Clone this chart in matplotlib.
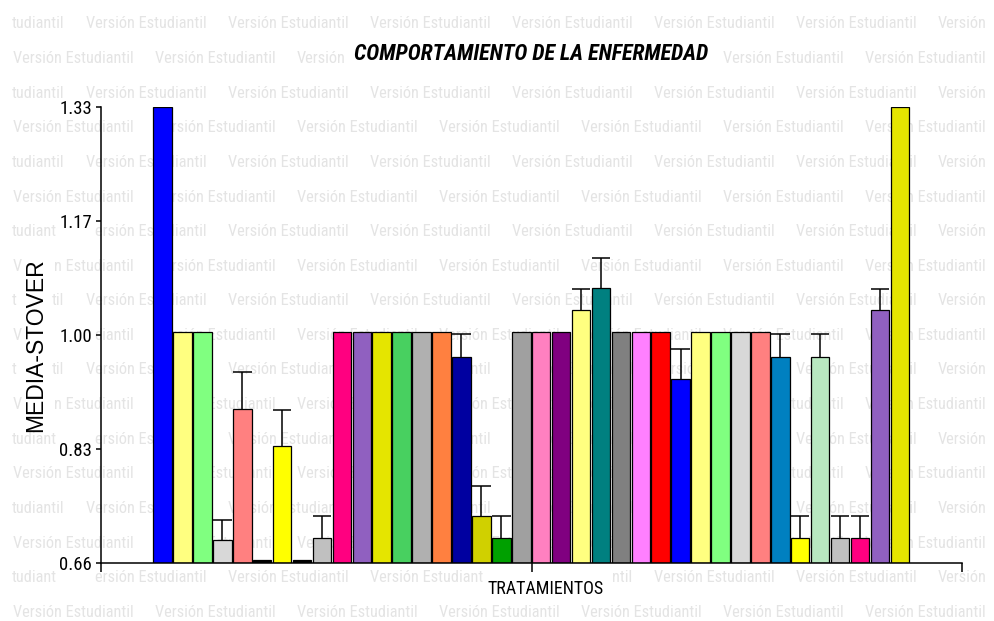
import numpy as np
import matplotlib
matplotlib.use("Agg")
import matplotlib.pyplot as plt
from matplotlib import font_manager as fm
from matplotlib.font_manager import FontProperties

# ---------------- data ----------------
categories = [f"T{i}" for i in range(1, 39)]
means = [1.33, 1.00, 1.00, 0.693, 0.886, 0.664, 0.832, 0.664, 0.697,
         1.00, 1.00, 1.00, 1.00, 1.00, 1.00, 0.963, 0.729, 0.697, 1.00,
         1.00, 1.00, 1.032, 1.064, 1.00, 1.00, 1.00, 0.930, 1.00, 1.00,
         1.00, 1.00, 0.963, 0.696, 0.963, 0.696, 0.696, 1.032, 1.33]
errors = [0, 0, 0, 0.030, 0.054, 0, 0.052, 0, 0.031,
          0, 0, 0, 0, 0, 0, 0.034, 0.044, 0.032, 0,
          0, 0, 0.031, 0.044, 0, 0, 0, 0.044, 0, 0,
          0, 0, 0.034, 0.033, 0.034, 0.033, 0.033, 0.031, 0]
colors = ["#0000FF", "#FFFF80", "#80FF80", "#D8D8D8", "#FF8080", "#000000",
          "#FFFF00", "#000000", "#C0C0C0",
          "#FF0080", "#9060C0", "#E5E500", "#48D060", "#B0B0B0", "#FF8040",
          "#0000A0", "#D0D000", "#00A000", "#A0A0A0",
          "#FF80C0", "#800080", "#FFFF80", "#008080", "#808080", "#FF80FF",
          "#FF0000", "#0000FF", "#FFFF80", "#80FF80",
          "#D8D8D8", "#FF8080", "#0080C0", "#FFFF00", "#B8E8C0", "#C0C0C0",
          "#FF0080", "#9060C0", "#E5E500"]
ytick_values = [0.66, 0.8275, 0.995, 1.1625, 1.33]
ytick_labels = ["0.66", "0.83", "1.00", "1.17", "1.33"]
title = "COMPORTAMIENTO DE LA ENFERMEDAD"
xlabel = "TRATAMIENTOS"
ylabel = "MEDIA-STOVER"
watermark = "Versión Estudiantil"

# ---------------- fonts ----------------
names = {f.name for f in fm.fontManager.ttflist}
NARROW, NS = "Liberation Sans", 0.82
for cand in ["Liberation Sans Narrow", "Arial Narrow", "Roboto Condensed",
             "Open Sans Condensed"]:
    if cand in names:
        NARROW, NS = cand, 1.0
        break
WIDE = "Liberation Sans" if "Liberation Sans" in names else "DejaVu Sans"

W, H = 994, 621
fig = plt.figure(figsize=(W / 100, H / 100), dpi=100)
fig.patch.set_facecolor("white")

# ---------------- axes ----------------
ax = fig.add_axes([101 / W, 58.3 / H, 861 / W, 455.4 / H])
ax.patch.set_facecolor("none")

x = np.arange(len(means))
m = np.array(means)
e = np.array(errors)
bw = 0.93
base = ytick_values[0]
ax.bar(x, m - base, bottom=base, width=bw, color=colors,
       edgecolor="black", linewidth=0.9, zorder=2)

has = e > 0
ax.vlines(x[has], m[has], m[has] + e[has], color="black", linewidth=1.1, zorder=3)
ax.hlines(m[has] + e[has], x[has] - bw / 2, x[has] + bw / 2, color="black",
          linewidth=1.1, zorder=3)

ax.set_xlim(-3.09, 40.12)
ax.set_ylim(ytick_values[0], ytick_values[-1])

for s in ["top", "right"]:
    ax.spines[s].set_visible(False)
for s in ["left", "bottom"]:
    ax.spines[s].set_linewidth(1.1)

ax.set_yticks(ytick_values)
ax.set_yticklabels(ytick_labels, family=NARROW, fontsize=13.5 * NS)
ax.tick_params(axis="y", direction="out", length=3.5, width=1.1, pad=3)
xl = ax.get_xlim()
ax.set_xticks([xl[0], (xl[0] + xl[1]) / 2, xl[1]])
ax.set_xticklabels(["", "", ""])
ax.tick_params(axis="x", direction="out", length=6.5, width=1.1)

ax.set_ylabel(ylabel, family=WIDE, fontsize=16.5, va="center")
ax.yaxis.set_label_coords((35.5 - 101) / 861, (562.7 - 345) / 455.4)
ax.set_xlabel(xlabel, family=NARROW, fontsize=13 * NS, va="center")
ax.xaxis.set_label_coords((546 - 101) / 861, (562.7 - 589) / 455.4)

title_txt = ax.text(0.5, (562.7 - 53.5) / 455.4, title, transform=ax.transAxes,
                    ha="center", va="center", family=NARROW, fontsize=15.9 * NS,
                    fontweight="bold", fontstyle="italic")

# ---------------- watermark (hidden behind labels, like the original) -------
fig.canvas.draw()
renderer = fig.canvas.get_renderer()
blockers = [title_txt, ax.yaxis.label, ax.xaxis.label] + list(ax.get_yticklabels())
boxes = []
for t in blockers:
    if t.get_text():
        bb = t.get_window_extent(renderer)
        boxes.append((bb.x0 - 2, bb.x1 + 2, bb.y0 - 1, bb.y1 + 1))

wm_prop = FontProperties(family=NARROW, size=11.8 * NS if NS == 1.0 else 13 * NS)
offs = [0.0]
for i in range(1, len(watermark) + 1):
    w_, h_, d_ = renderer.get_text_width_height_descent(watermark[:i], wm_prop,
                                                        ismath=False)
    offs.append(w_)
_, wm_h, _ = renderer.get_text_width_height_descent(watermark, wm_prop, ismath=False)

row_y0, row_dy = 24, 34.6
period = 142
startA = 12 - offs[10]
for k in range(18):
    ypx = row_y0 + k * row_dy
    yd = H - ypx
    row_lo, row_hi = yd - wm_h / 2 + 2, yd + wm_h / 2 - 2
    blocks = [(-1e9, 11), (W - 1, 1e9)]
    for (bx0, bx1, by0, by1) in boxes:
        if by1 > row_lo and by0 < row_hi:
            blocks.append((bx0, bx1))
    start = startA if k % 2 == 0 else 13
    x0 = start
    while x0 < W:
        vis = []
        for i, ch in enumerate(watermark):
            cx0, cx1 = x0 + offs[i], x0 + offs[i + 1]
            ok = all(cx1 <= b0 + 0.5 or cx0 >= b1 - 0.5 for (b0, b1) in blocks)
            vis.append(ok)
        i = 0
        while i < len(watermark):
            if vis[i]:
                j = i
                while j < len(watermark) and vis[j]:
                    j += 1
                seg = watermark[i:j]
                lead = len(seg) - len(seg.lstrip())
                seg = seg.strip()
                if seg:
                    fig.text((x0 + offs[i + lead]) / W, yd / H, seg,
                             color="#E4E4E4", fontproperties=wm_prop,
                             ha="left", va="center", zorder=-5)
                i = j
            else:
                i += 1
        x0 += period

fig.savefig("out.png", dpi=100)
